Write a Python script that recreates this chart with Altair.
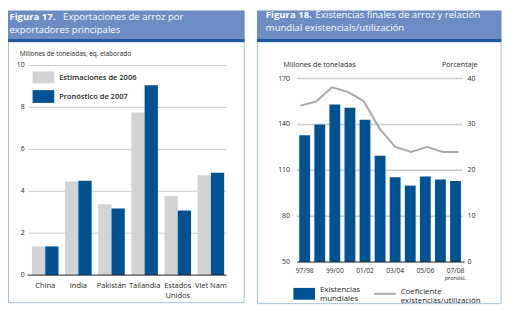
import altair as alt
import pandas as pd

# ---------------- data ----------------
countries = ["China", "India", "Pakistán", "Tailandia", "Estados Unidos", "Viet Nam"]
country_labels = ["China", "India", "Pakistán", "Tailandia", "Estados\nUnidos", "Viet Nam"]
est_2006 = [1.37, 4.47, 3.38, 7.76, 3.77, 4.76]
pron_2007 = [1.37, 4.50, 3.18, 9.06, 3.08, 4.88]
left_ticks = [0, 2, 4, 6, 8, 10]

seasons = ["97/98", "98/99", "99/00", "00/01", "01/02", "02/03",
           "03/04", "04/05", "05/06", "06/07", "07/08"]
season_labels = ["97/98", "", "99/00", "", "01/02", "", "03/04", "", "05/06", "", "07/08"]
stocks = [133, 140, 153, 151, 143, 119.5, 105.5, 100, 106, 104, 103]
ratio = [34.1, 35.0, 38.1, 37.1, 35.1, 29.1, 25.1, 24.0, 25.1, 24.0, 24.0]
stock_ticks = [50, 80, 110, 140, 170]
pct_ticks = [0, 10, 20, 30, 40]

# ---------------- style ----------------
FONT = "Open Sans"
BLUE = "#005293"
GREY_BAR = "#d1d3d4"
HEADER = "#6d8cc4"
HEADER_LINE = "#1f5a9e"
BORDER = "#a3bcd9"
GRID = "#cbcccd"
AXIS = "#231f20"
TEXT = "#231f20"
LINE = "#a7a9ac"

W, H = 503, 302
one = pd.DataFrame({"k": [0]})


def box(x, x2, y, y2, **kw):
    return alt.Chart(one).mark_rect(**kw).encode(
        x=alt.value(x), x2=alt.value(x2), y=alt.value(y), y2=alt.value(y2))


def label(s, x, y, size, weight="normal", color=TEXT, align="left", baseline="alphabetic", lh=None):
    kw = dict(font=FONT, fontSize=size, fontWeight=weight, color=color,
              align=align, baseline=baseline, lineBreak="\n")
    if lh:
        kw["lineHeight"] = lh
    return alt.Chart(one).mark_text(**kw).encode(
        x=alt.value(x), y=alt.value(y), text=alt.value(s))


layers = []

# ---------------- panels & headers ----------------
TS = 9.7
layers += [
    box(0.5, 240, 32, 297, fill="white", stroke=BORDER, strokeWidth=1),
    box(253.5, 501, 32, 298, fill="white", stroke=BORDER, strokeWidth=1),
    box(0, 240.5, 0, 29, color=HEADER),
    box(0, 240.5, 29, 32, color=HEADER_LINE),
    box(253, 501.5, 0, 29, color=HEADER),
    box(253, 501.5, 29, 32, color=HEADER_LINE),
    label("Figura 17.", 1.5, 9.5, TS, weight="bold", color="white"),
    label("Exportaciones de arroz por", 56, 9.5, TS, color="white"),
    label("exportadores  principales", 1.5, 22.5, TS, color="white"),
    label("Figura 18.", 262, 8, TS, weight="bold", color="white"),
    label("Existencias finales de arroz y relación", 312.5, 8, TS, color="white"),
    label("mundial existencials/utilización", 262, 21, TS, color="white"),
]

# ---------------- left chart ----------------
L_X0, L_X1 = 21, 223
L_Y0, L_Y1 = 269, 56
stepL = (L_X1 - L_X0) / len(countries)
BW = 13.5
pinL = 1 - BW / stepL
left_df = pd.DataFrame({"country": countries, "label": country_labels,
                        "est": est_2006, "pron": pron_2007})
yL = alt.Scale(domain=[0, 10], range=[L_Y0, L_Y1], nice=False, zero=False)


def bandL(shift):
    return alt.Scale(type="band", domain=countries, range=[L_X0 + shift, L_X1 + shift],
                     paddingInner=pinL, paddingOuter=pinL / 2)


pointL = alt.Scale(type="point", domain=countries,
                   range=[L_X0 + stepL / 2, L_X1 - stepL / 2], padding=0)

layers += [
    label("Millones de toneladas, eq. elaborado", 12, 46, 6.6),
    alt.Chart(pd.DataFrame({"v": left_ticks[1:]})).mark_rule(color=GRID, strokeWidth=1).encode(
        y=alt.Y("v:Q", scale=yL, axis=None), x=alt.value(21), x2=alt.value(222)),
    alt.Chart(left_df).mark_bar(color=GREY_BAR).encode(
        x=alt.X("country:N", scale=bandL(-BW / 2), axis=None),
        y=alt.Y("est:Q", scale=yL, axis=None), y2=alt.datum(0)),
    alt.Chart(left_df).mark_bar(color=BLUE).encode(
        x=alt.X("country:N", scale=bandL(BW / 2), axis=None),
        y=alt.Y("pron:Q", scale=yL, axis=None), y2=alt.datum(0)),
    alt.Chart(pd.DataFrame({"v": [0]})).mark_rule(color=AXIS, strokeWidth=1).encode(
        y=alt.Y("v:Q", scale=yL, axis=None), x=alt.value(20), x2=alt.value(222)),
    alt.Chart(pd.DataFrame({"v": left_ticks})).mark_text(
        font=FONT, fontSize=7, color=TEXT, align="right", baseline="middle").encode(
        y=alt.Y("v:Q", scale=yL, axis=None), x=alt.value(17),
        text=alt.Text("v:Q", format="d")),
    alt.Chart(left_df).mark_text(
        font=FONT, fontSize=7.6, color=TEXT, align="center", baseline="alphabetic",
        lineBreak="\n", lineHeight=10).encode(
        x=alt.X("country:N", scale=pointL, axis=None), y=alt.value(282), text="label:N"),
    box(25, 47, 62, 74, color=GREY_BAR),
    box(25, 47, 81, 94, color=BLUE),
    label("Estimaciones de 2006", 52, 68.5, 7.6, weight=600, baseline="middle"),
    label("Pronóstico de 2007", 52, 88, 7.6, weight=600, baseline="middle"),
]

# ---------------- right chart ----------------
R_X0, R_X1 = 293.8, 462.4
R_Y0, R_Y1 = 255.7, 69.3
stepR = (R_X1 - R_X0) / len(seasons)
BWR = 11
pinR = 1 - BWR / stepR
right_df = pd.DataFrame({"season": seasons, "label": season_labels,
                         "stocks": stocks, "ratio": ratio})
yS = alt.Scale(domain=[50, 170], range=[R_Y0, R_Y1], nice=False, zero=False)
yP = alt.Scale(domain=[0, 40], range=[R_Y0, R_Y1], nice=False, zero=False)
bandR = alt.Scale(type="band", domain=seasons, range=[R_X0, R_X1],
                  paddingInner=pinR, paddingOuter=pinR / 2)
pointR = alt.Scale(type="point", domain=seasons,
                   range=[R_X0 + stepR / 2, R_X1 - stepR / 2], padding=0)
lineR = alt.Scale(type="point", domain=seasons, range=[297, 458], padding=0)

layers += [
    label("Millones de toneladas", 280, 58, 7.2),
    label("Porcentaje", 477, 58, 7.2, align="right"),
    alt.Chart(pd.DataFrame({"v": stock_ticks[1:]})).mark_rule(color=GRID, strokeWidth=1.5).encode(
        y=alt.Y("v:Q", scale=yS, axis=None), x=alt.value(293.7), x2=alt.value(462)),
    alt.Chart(right_df).mark_bar(color=BLUE).encode(
        x=alt.X("season:N", scale=bandR, axis=None),
        y=alt.Y("stocks:Q", scale=yS, axis=None), y2=alt.datum(50)),
    alt.Chart(pd.DataFrame({"v": [50]})).mark_rule(color=AXIS, strokeWidth=1).encode(
        y=alt.Y("v:Q", scale=yS, axis=None), x=alt.value(293.7), x2=alt.value(464)),
    alt.Chart(right_df).mark_line(color=LINE, strokeWidth=2).encode(
        x=alt.X("season:N", scale=lineR, axis=None, sort=seasons),
        y=alt.Y("ratio:Q", scale=yP, axis=None)),
    alt.Chart(pd.DataFrame({"v": stock_ticks})).mark_text(
        font=FONT, fontSize=7, color=TEXT, align="right", baseline="middle").encode(
        y=alt.Y("v:Q", scale=yS, axis=None), x=alt.value(286.5),
        text=alt.Text("v:Q", format="d")),
    alt.Chart(pd.DataFrame({"v": pct_ticks})).mark_text(
        font=FONT, fontSize=7, color=TEXT, align="left", baseline="middle").encode(
        y=alt.Y("v:Q", scale=yP, axis=None), x=alt.value(467),
        text=alt.Text("v:Q", format="d")),
    alt.Chart(right_df).mark_text(
        font=FONT, fontSize=6.8, color=TEXT, align="center", baseline="alphabetic").encode(
        x=alt.X("season:N", scale=pointR, axis=None), y=alt.value(267), text="label:N"),
    alt.Chart(pd.DataFrame({"season": ["07/08"], "t": ["pronóst."]})).mark_text(
        font=FONT, fontSize=5.6, color=TEXT, align="center", baseline="alphabetic").encode(
        x=alt.X("season:N", scale=pointR, axis=None), y=alt.value(274), text="t:N"),
    box(290, 312, 282, 294, color=BLUE),
    label("Existencias\nmundiales", 317, 286, 8, lh=9.5),
    alt.Chart(one).mark_rule(color=LINE, strokeWidth=2).encode(
        x=alt.value(372), x2=alt.value(394), y=alt.value(288)),
    label("Coeficiente\nexistencias/utilización", 399, 288, 8, lh=9),
]

chart = alt.layer(*layers).resolve_scale(
    x="independent", y="independent"
).properties(
    width=W, height=H, padding=0,
    autosize=alt.AutoSizeParams(type="none"),
    background="white",
).configure_view(stroke=None)

chart.save("out.html", embed_options={"renderer": "svg", "actions": False})
